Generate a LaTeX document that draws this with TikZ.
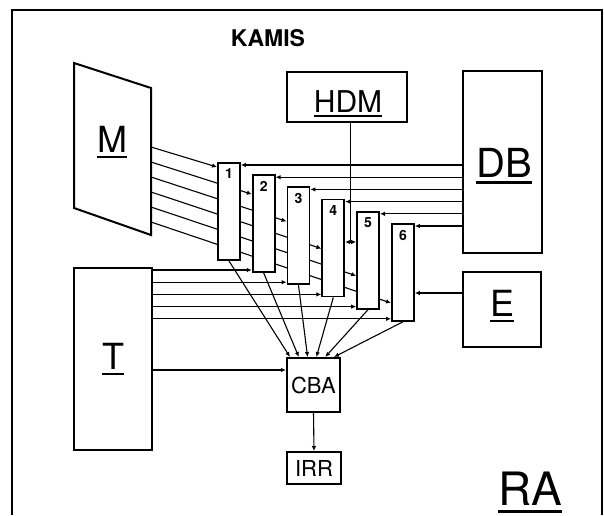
\documentclass[tikz,border=0pt]{standalone}
\usepackage{fontspec}
\setmainfont{TeX Gyre Heros}
\usetikzlibrary{arrows.meta,calc}
\pgfdeclarelayer{bg}
\pgfsetlayers{bg,main}
\newcommand\ulbox[1]{\setbox0\hbox{#1}\rlap{\vrule height -0.1em depth 0.17em width \wd0}\box0}
\begin{document}
\begin{tikzpicture}[x=1pt,y=-1pt,
  box/.style={draw,line width=2pt,fill=white,inner sep=0pt},
  colbox/.style={box,line width=1.8pt,minimum width=22pt,minimum height=97pt},
  link/.style={line width=1.1pt,-{Latex[length=5pt,width=4.5pt]}},
  plain/.style={line width=1.1pt},
  lbl/.style={inner sep=0pt,anchor=base},
  colnum/.style={inner sep=0pt,font=\fontsize{14}{14}\selectfont\bfseries},
  biglbl/.style={lbl,font=\fontsize{36}{36}\selectfont},
  smalllbl/.style={lbl,font=\fontsize{22}{22}\selectfont}
]
\useasboundingbox (0,0) rectangle (604,515);
% outer frame (open at the bottom)
\draw[line width=2pt] (12,515) -- (12,10) -- (602,10) -- (602,515);
\node[lbl,font=\fontsize{23}{23}\selectfont\bfseries] (kamis) at (268,46) {KAMIS};

% blocks
\node[box,minimum width=120pt,minimum height=50pt] (hdm) at (347,97) {};
\node[box,minimum width=79pt,minimum height=182pt] (db) at (502.5,162) {};
\node[box,minimum width=78pt,minimum height=75pt] (e) at (502,309.5) {};
\node[box,minimum width=78pt,minimum height=182pt] (t) at (113,359) {};
\node[box,minimum width=53pt,minimum height=54pt] (cba) at (313.5,385) {};
\node[box,minimum width=54pt,minimum height=32pt] (irr) at (314,468) {};
\draw[line width=2pt,fill=white,line join=miter] (74,63) coordinate (m1) -- (151,88) coordinate (m2)
  -- (151,235) coordinate (m3) -- (74,208) coordinate (m4) -- cycle;

% labels
\node[lbl,font=\fontsize{30}{30}\selectfont] (hdmlab) at (348,112) {\ulbox{HDM}};
\node[biglbl] (mlab) at (112,152) {\ulbox{M}};
\node[lbl,font=\fontsize{40}{40}\selectfont] (dblab) at (504,177) {\ulbox{DB}};
\node[biglbl] (elab) at (502,316) {\ulbox{E}};
\node[biglbl] (tlab) at (113,369) {\ulbox{T}};
\node[smalllbl] (cbalab) at (313.5,393) {CBA};
\node[smalllbl] (irrlab) at (314,476) {IRR};
\node[lbl,font=\fontsize{46}{46}\selectfont] (ralab) at (530,505) {\ulbox{RA}};

% columns 1..6
\foreach \k in {1,...,6} {
  \node[colbox,anchor=north west] (c\k) at ({217+34.8*(\k-1)},{162+12.2*(\k-1)}) {};
  \node[colnum] (n\k) at ($(c\k.north)+(0,12)$) {\k};
}

\begin{pgfonlayer}{bg}
% M -> columns
\foreach \k in {1,...,6} {
  \coordinate (ms\k) at (151,{147+15*(\k-1)});
  \coordinate (mt\k) at ($(c\k.north west)+(0,{5+15*(\k-1)})$);
  \draw[link] (ms\k) -- (mt\k);
}
% DB -> columns
\foreach \k in {1,...,6} {
  \coordinate (dbt\k) at ($(c\k.north east)+(0,3)$);
  \draw[link] (db.west |- dbt\k) -- (dbt\k);
}
% T -> columns 2..6
\foreach \k in {2,...,6} {
  \coordinate (tt\k) at ($(c\k.south west)+(0,-3)$);
  \draw[link] (t.east |- tt\k) -- (tt\k);
}
% E -> column 6
\coordinate (ey) at (0,293);
\draw[link] (e.west |- ey) -- (c6.east |- ey);
% HDM -> columns 4 and 5
\coordinate (hb) at (350.5,242);
\draw[plain] (hdm.south -| hb) -- (hb);
\draw[link] (hb) -- (c4.east |- hb);
\draw[link] (hb) -- (c5.west |- hb);
% columns -> CBA
\foreach \k in {1,...,6} {
  \coordinate (ct\k) at ($(cba.north west)+({4+8.8*(\k-1)},0)$);
  \draw[link] (c\k.south) -- (ct\k);
}
% T -> CBA
\coordinate (tc) at (0,370);
\draw[link] (t.east |- tc) -- (cba.west |- tc);
% CBA -> IRR
\draw[link] (cba.south) -- (irr.north);
\end{pgfonlayer}
\end{tikzpicture}
\end{document}
